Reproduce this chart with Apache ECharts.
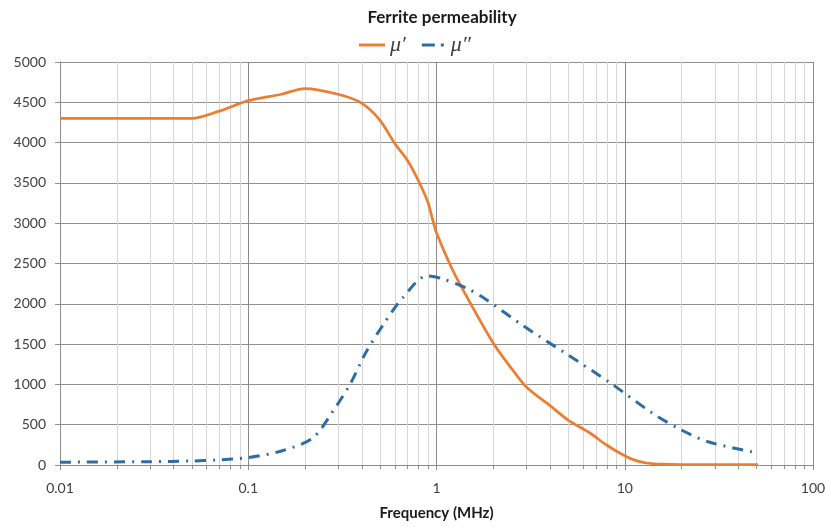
<!DOCTYPE html>
<html>
<head>
<meta charset="utf-8">
<script src="https://cdn.jsdelivr.net/npm/echarts@6/dist/echarts.min.js"></script>
<style>
  html, body { margin: 0; padding: 0; background: #fff; }
  #chart { width: 830px; height: 527px; }
</style>
</head>
<body>
<div id="chart"></div>
<script>
// Real part of permeability, μ'
const freqMuReal = [0.01, 0.02, 0.03, 0.05, 0.07, 0.1, 0.15, 0.2, 0.3, 0.4, 0.5, 0.6, 0.7, 0.8, 0.9, 0.95, 1.0, 1.2, 1.45, 2.0, 2.5, 3.0, 4.0, 5.0, 6.5, 8.0, 9.4, 11, 13, 16, 20, 30, 51];
const muReal     = [4300, 4300, 4300, 4300, 4390, 4520, 4600, 4670, 4600, 4490, 4280, 3990, 3780, 3530, 3260, 3060, 2880, 2450, 2085, 1514, 1200, 968, 740, 558, 400, 248, 149, 70, 25, 10, 6, 5, 5];

// Imaginary part of permeability, μ''
const freqMuImag = [0.01, 0.03, 0.05, 0.068, 0.1, 0.15, 0.22, 0.28, 0.35, 0.42, 0.52, 0.66, 0.89, 1.04, 1.45, 1.85, 2.9, 5.0, 8.4, 14, 20, 28, 51];
const muImag     = [35, 41, 50, 62, 92, 174, 335, 658, 1017, 1390, 1737, 2072, 2345, 2320, 2192, 2047, 1725, 1365, 1017, 645, 434, 285, 149];

// Intermediate gridline positions between decades (2..9 × 10^n)
const minorFreqs = [];
[0.01, 0.1, 1, 10].forEach(d => { for (let k = 2; k <= 9; k++) minorFreqs.push(+(d * k).toPrecision(3)); });

const xTickLabels = ['0.01', '0.1', '1', '10', '100'];

const labelFont = 'Lato, "Open Sans", sans-serif';

const chart = echarts.init(document.getElementById('chart'));
chart.setOption({
  animation: false,
  backgroundColor: '#ffffff',
  title: {
    text: 'Ferrite permeability',
    left: 437, top: 4, textAlign: 'center',
    textStyle: { fontFamily: labelFont, fontWeight: 'bold', fontSize: 17, color: '#1a1a1a' }
  },
  legend: {
    data: [
      { name: "μ′", icon: 'path://M0,0 H26 V3 H0 Z' },
      { name: "μ″", icon: 'path://M0,0 H13 V3 H0 Z M19,0 H22 V3 H19 Z' }
    ],
    left: 'center', top: 29,
    itemWidth: 26, itemHeight: 3, itemGap: 16,
    textStyle: { fontFamily: '"Liberation Serif", "DejaVu Serif", serif', fontStyle: 'italic', fontSize: 22, color: '#404040' }
  },
  grid: { left: 60, right: 17, top: 62, bottom: 62 },
  xAxis: {
    type: 'log', logBase: 10, min: 0.01, max: 100,
    name: 'Frequency (MHz)', nameLocation: 'middle', nameGap: 41,
    nameTextStyle: { fontFamily: labelFont, fontWeight: 'bold', fontSize: 15, color: '#1a1a1a' },
    axisLine: { show: true, lineStyle: { color: '#8c8c8c', width: 1 } },
    axisTick: { show: true, length: 5, lineStyle: { color: '#8c8c8c' } },
    axisLabel: {
      fontFamily: labelFont, fontSize: 14, color: '#404040', margin: 16,
      formatter: v => {
        const e = Math.round(Math.log10(v));
        return xTickLabels[e + 2] !== undefined ? xTickLabels[e + 2] : '';
      }
    },
    splitLine: { show: true, lineStyle: { color: '#8a8a8a', width: 1 } }
  },
  yAxis: {
    type: 'value', min: 0, max: 5000, interval: 500,
    axisLine: { show: true, lineStyle: { color: '#8c8c8c', width: 1 } },
    axisTick: { show: true, length: 5, lineStyle: { color: '#8c8c8c' } },
    axisLabel: { fontFamily: labelFont, fontSize: 14, color: '#404040', margin: 14, formatter: v => String(v) },
    splitLine: { show: true, lineStyle: { color: '#8f8f8f', width: 1 } }
  },
  series: [
    {
      // minor vertical gridlines plus their little ticks below the axis
      type: 'custom',
      name: 'minor',
      silent: true,
      clip: false,
      z: 1,
      data: minorFreqs.map(f => [f]),
      renderItem: (params, api) => {
        const top = api.coord([api.value(0), 5000]);
        const bot = api.coord([api.value(0), 0]);
        const x = Math.round(bot[0]) + 0.5;
        return {
          type: 'group',
          children: [
            { type: 'line', shape: { x1: x, y1: top[1], x2: x, y2: bot[1] },
              style: { stroke: '#d6d6d6', lineWidth: 1 } },
            { type: 'line', shape: { x1: x, y1: bot[1], x2: x, y2: bot[1] + 4 },
              style: { stroke: '#8c8c8c', lineWidth: 1 } }
          ]
        };
      }
    },
    {
      name: "μ′",
      type: 'line',
      z: 3,
      smooth: 0.3,
      symbol: 'none',
      data: freqMuReal.map((f, i) => [f, muReal[i]]),
      color: '#ED7D31',
      lineStyle: { color: '#ED7D31', width: 2.75 }
    },
    {
      name: "μ″",
      type: 'line',
      z: 4,
      smooth: 0.3,
      symbol: 'none',
      data: freqMuImag.map((f, i) => [f, muImag[i]]),
      color: '#2E6DA4',
      lineStyle: { color: '#2E6DA4', width: 3, type: [11, 7, 2, 7] }
    }
  ]
});
</script>
</body>
</html>
